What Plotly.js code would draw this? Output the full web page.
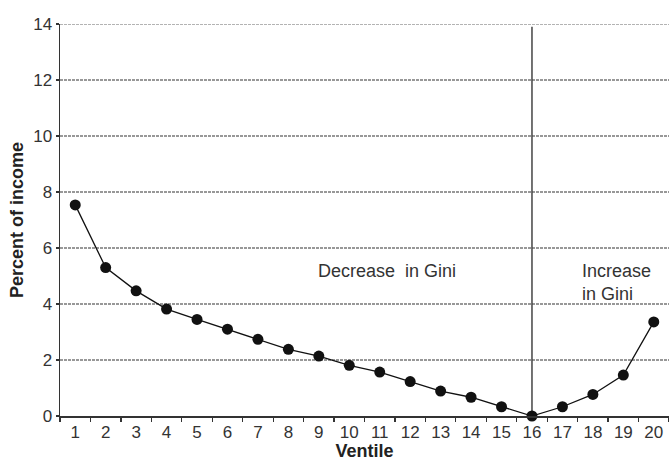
<!DOCTYPE html>
<html>
<head>
<meta charset="utf-8">
<script src="https://cdn.plot.ly/plotly-3.0.1.min.js"></script>
<style>html,body{margin:0;padding:0;background:#fff;}#chart{width:669px;height:461px;}</style>
</head>
<body>
<div id="chart"></div>
<script>
var ventiles = ["1","2","3","4","5","6","7","8","9","10","11","12","13","14","15","16","17","18","19","20"];
var percentOfIncome = [7.54, 5.3, 4.47, 3.82, 3.45, 3.1, 2.74, 2.38, 2.14, 1.81, 1.57, 1.23, 0.89, 0.67, 0.33, 0.0, 0.33, 0.77, 1.46, 3.36];
var gridValues = [2, 4, 6, 8, 10, 12];
var topGrid = 14;
var splitVentile = "16";
var splitTop = 13.9;

var FONT = "Liberation Sans, Arial, sans-serif";
var splitIndex = ventiles.indexOf(splitVentile);
var shapes = gridValues.map(function (v) {
  return {type: "line", xref: "paper", x0: 0, x1: 1, yref: "y", y0: v, y1: v,
          line: {color: "#333333", width: 1.1, dash: "3px,1px"}, layer: "below"};
});
shapes.push({type: "line", xref: "paper", x0: 0, x1: 1, yref: "y", y0: topGrid, y1: topGrid,
             line: {color: "#9a9a9a", width: 1.3, dash: "3px,1px"}, layer: "below"});
shapes.push({type: "line", xref: "x", x0: splitIndex, x1: splitIndex, yref: "y", y0: 0, y1: splitTop,
             line: {color: "#444444", width: 1.5}, layer: "below"});

var trace = {
  x: ventiles, y: percentOfIncome, type: "scatter", mode: "lines+markers",
  line: {color: "#111111", width: 1.3},
  marker: {color: "#111111", size: 11},
  cliponaxis: false, hoverinfo: "skip"
};

var layout = {
  width: 669, height: 461,
  margin: {l: 60, r: 0, t: 24, b: 45, pad: 0},
  paper_bgcolor: "#ffffff", plot_bgcolor: "#ffffff",
  font: {family: FONT, color: "#333333", size: 17},
  showlegend: false,
  xaxis: {
    type: "category", range: [-0.5, 19.5], fixedrange: true,
    tickson: "boundaries", ticks: "outside", ticklen: 4, tickwidth: 1.2, tickcolor: "#333",
    showline: true, linecolor: "#333333", linewidth: 1.5, showgrid: false, zeroline: false,
    tickfont: {size: 17, color: "#333"},
    title: {text: "Ventile", font: {size: 18, color: "#222", family: FONT, weight: "bold"}, standoff: 10}
  },
  yaxis: {
    range: [0, 14], tickvals: [0, 2, 4, 6, 8, 10, 12, 14], fixedrange: true,
    ticks: "outside", ticklen: 3, tickwidth: 1.2, tickcolor: "#333",
    showline: true, linecolor: "#333333", linewidth: 1.5, showgrid: false, zeroline: false,
    tickfont: {size: 17, color: "#333"},
    title: {text: "Percent of income", font: {size: 18, color: "#222", family: FONT, weight: "bold"}, standoff: 5}
  },
  shapes: shapes,
  annotations: [
    {text: "Decrease\u00a0 in Gini", xref: "x", yref: "y", x: 10.24, y: 5.18,
     xanchor: "center", yanchor: "middle", showarrow: false, font: {size: 18, color: "#333"}},
    {text: "Increase<br>in Gini", xref: "x", yref: "y", x: 16.58, y: 4.77,
     xanchor: "left", yanchor: "middle", align: "left", showarrow: false, font: {size: 18, color: "#333"}}
  ]
};

Plotly.newPlot("chart", [trace], layout, {displayModeBar: false, staticPlot: true});
</script>
</body>
</html>
